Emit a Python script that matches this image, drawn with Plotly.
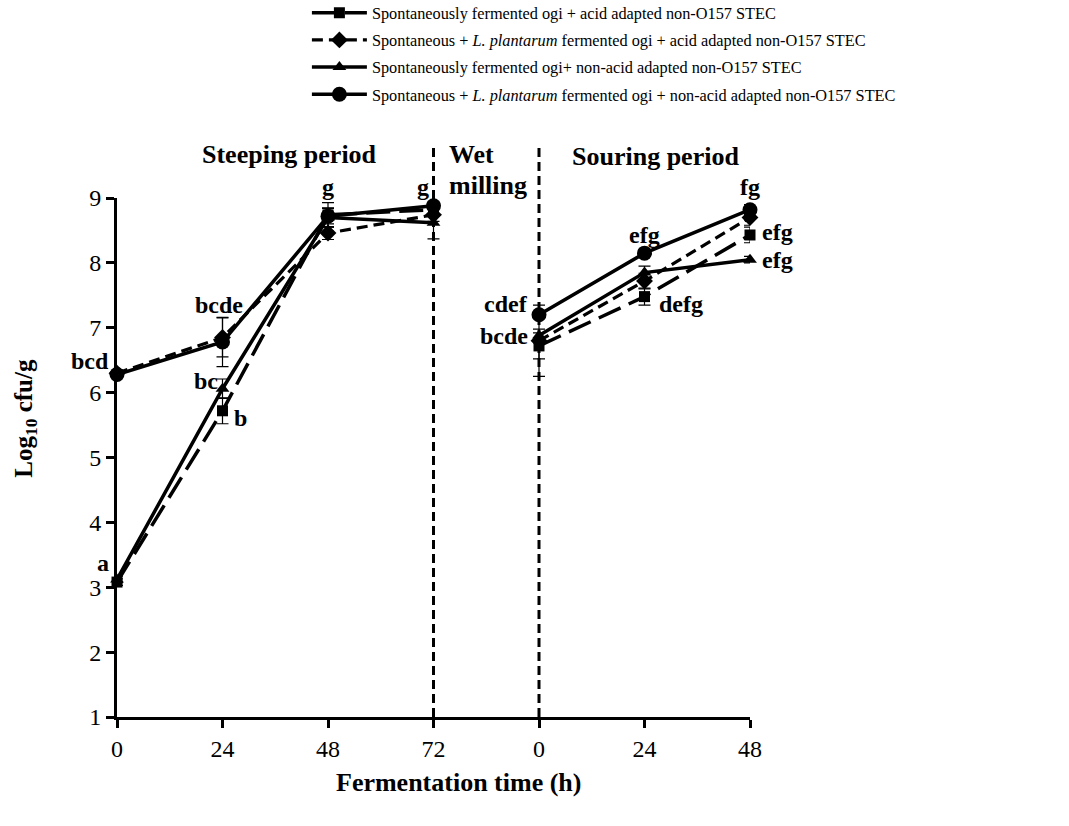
import plotly.graph_objects as go

# Sampling times (h) for the two fermentation stages
steep_hours = [0, 24, 48, 72]
sour_hours = [0, 24, 48]

# Log10 cfu/g counts, steeping stage then souring stage
sq_steep = [3.08, 5.72, 8.74, 8.82]
sq_sour = [6.72, 7.48, 8.43]
sq_err_steep = [0.05, 0.20, 0.19, 0.10]
sq_err_sour = [0.20, 0.13, 0.12]

di_steep = [6.30, 6.85, 8.46, 8.74]
di_sour = [6.80, 7.72, 8.70]
di_err_steep = [0.05, 0.30, 0.10, 0.10]
di_err_sour = [0.55, 0.12, 0.12]

tr_steep = [3.12, 6.06, 8.70, 8.62]
tr_sour = [6.88, 7.85, 8.05]
tr_err_steep = [0.05, 0.15, 0.15, 0.25]
tr_err_sour = [0.10, 0.10, 0.05]

ci_steep = [6.28, 6.78, 8.72, 8.88]
ci_sour = [7.20, 8.15, 8.82]
ci_err_steep = [0.05, 0.38, 0.12, 0.06]
ci_err_sour = [0.05, 0.05, 0.08]

names = [
    "Spontaneously fermented ogi + acid adapted non-O157 STEC",
    "Spontaneous + <i>L. plantarum</i> fermented ogi + acid adapted non-O157 STEC",
    "Spontaneously fermented ogi+ non-acid adapted non-O157 STEC",
    "Spontaneous + <i>L. plantarum</i> fermented ogi + non-acid adapted non-O157 STEC",
]

tick_text = [str(h) for h in steep_hours + sour_hours]
x_steep = list(range(len(steep_hours)))
x_sour = [len(steep_hours) + i for i in range(len(sour_hours))]
x_gap = (x_steep[-1] + x_sour[0]) / 2

SERIF = "Liberation Serif, Times New Roman, serif"


def joined(a, b):
    return a + [None] + b


def errs(a, b):
    return a + [0] + b


series = [
    dict(key="sq", steep=sq_steep, sour=sq_sour, es=sq_err_steep, eo=sq_err_sour,
         symbol="square", size=11, dash="24px,9px", width=3.5),
    dict(key="di", steep=di_steep, sour=di_sour, es=di_err_steep, eo=di_err_sour,
         symbol="diamond", size=13, dash="11px,6px", width=3.2),
    dict(key="tr", steep=tr_steep, sour=tr_sour, es=tr_err_steep, eo=tr_err_sour,
         symbol="triangle-up", size=12, dash="solid", width=3.5),
    dict(key="ci", steep=ci_steep, sour=ci_sour, es=ci_err_steep, eo=ci_err_sour,
         symbol="circle", size=15, dash="solid", width=3.5),
]

fig = go.Figure()
xs = joined(x_steep, x_sour)
xs[len(x_steep)] = x_gap
for i, s in enumerate(series):
    fig.add_trace(go.Scatter(
        x=xs,
        y=joined(s["steep"], s["sour"]),
        mode="lines+markers",
        name=names[i],
        legendgroup=s["key"],
        connectgaps=False,
        cliponaxis=False,
        line=dict(color="black", width=s["width"], dash=s["dash"]),
        marker=dict(symbol=s["symbol"], size=s["size"], color="black"),
        error_y=dict(type="data", array=errs(s["es"], s["eo"]), visible=True,
                     color="black", thickness=1.2, width=6),
    ))

vals = {s["key"]: s["steep"] + s["sour"] for s in series}
xpos = x_steep + x_sour

# significance letters: (text, series, point index, xanchor, xshift, yshift)
letters = [
    ("a", "tr", 0, "right", -6, 16),
    ("bcd", "ci", 0, "right", -6, 13),
    ("bcde", "ci", 1, "center", -4, 37),
    ("bc", "tr", 1, "right", -3, 8),
    ("b", "sq", 1, "left", 9, -7),
    ("g", "ci", 2, "center", 0, 29),
    ("g", "ci", 3, "center", -11, 19),
    ("cdef", "ci", 4, "right", -9, 11),
    ("bcde", "tr", 4, "right", -9, 0),
    ("efg", "ci", 5, "center", 0, 18),
    ("defg", "sq", 5, "left", 12, -7),
    ("fg", "ci", 6, "center", 0, 23),
    ("efg", "sq", 6, "left", 10, 3),
    ("efg", "tr", 6, "left", 10, 0),
]
for text, key, idx, anchor, dx, dy in letters:
    fig.add_annotation(x=xpos[idx], y=vals[key][idx], text=f"<b>{text}</b>",
                       showarrow=False, xanchor=anchor, yanchor="middle",
                       xshift=dx, yshift=dy,
                       font=dict(family=SERIF, size=24, color="black"))

# stage headers
headers = [
    ("Steeping period", 0.273, 1.083, "center"),
    ("Wet", 0.521, 1.083, "left"),
    ("milling", 0.521, 1.025, "left"),
    ("Souring period", 0.851, 1.079, "center"),
]
for text, px, py, anchor in headers:
    fig.add_annotation(xref="paper", yref="paper", x=px, y=py, text=f"<b>{text}</b>",
                       showarrow=False, xanchor=anchor, yanchor="middle",
                       font=dict(family=SERIF, size=26, color="black"))

# stage boundaries
for xb in (x_steep[-1], x_sour[0]):
    fig.add_shape(type="line", xref="x", yref="paper", x0=xb, x1=xb, y0=0, y1=1.103,
                  line=dict(color="black", width=3, dash="9px,5px"))

fig.add_annotation(xref="paper", yref="y", x=-0.145, y=5.6, textangle=-90,
                   xanchor="center", yanchor="middle",
                   text="<b>Log<sub>10</sub> cfu/g</b>", showarrow=False,
                   font=dict(family=SERIF, size=25, color="black"))
fig.add_annotation(xref="paper", yref="paper", x=0.54, y=-0.127,
                   xanchor="center", yanchor="middle",
                   text="<b>Fermentation time (h)</b>", showarrow=False,
                   font=dict(family=SERIF, size=26, color="black"))

fig.update_layout(
    width=1069, height=826,
    margin=dict(l=117, r=319, t=198, b=109, autoexpand=False),
    paper_bgcolor="white", plot_bgcolor="white",
    showlegend=True,
    legend=dict(x=0.300, y=1.390, xanchor="left", yanchor="top",
                bgcolor="rgba(0,0,0,0)", tracegroupgap=3, itemwidth=55,
                font=dict(family=SERIF, size=16.3, color="black")),
    font=dict(family=SERIF, color="black"),
)
fig.update_xaxes(range=[0, xpos[-1]], tickmode="array", tickvals=xpos, ticktext=tick_text,
                 showline=True, linewidth=3, linecolor="black", showgrid=False,
                 zeroline=False, ticks="outside", ticklen=8, tickwidth=2.5, tickcolor="black",
                 tickfont=dict(family=SERIF, size=24, color="black"))
fig.update_yaxes(range=[1, 9], tickvals=list(range(1, 10)),
                 showline=True, linewidth=3, linecolor="black", showgrid=False,
                 zeroline=False, ticks="outside", ticklen=8, tickwidth=2.5, tickcolor="black",
                 tickfont=dict(family=SERIF, size=24, color="black"))

fig.write_html("out.html")
